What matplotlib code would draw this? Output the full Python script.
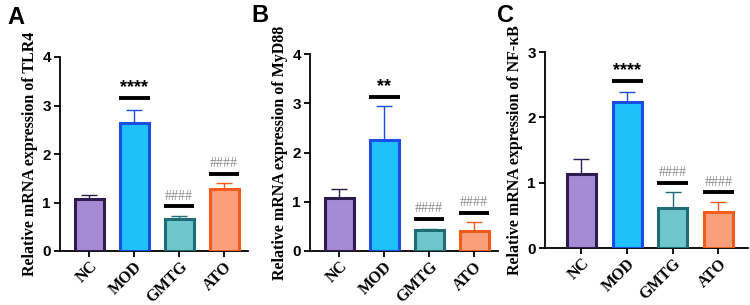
import matplotlib
matplotlib.use("Agg")
import matplotlib.pyplot as plt

groups = ["NC", "MOD", "GMTG", "ATO"]

tlr4_mean = [1.07, 2.63, 0.66, 1.28]
tlr4_err = [0.09, 0.28, 0.06, 0.12]
tlr4_sig_y = [None, 3.15, 0.92, 1.58]
tlr4_sig_txt = [None, "****", "####", "####"]

myd88_mean = [1.08, 2.26, 0.42, 0.41]
myd88_err = [0.17, 0.68, 0.03, 0.17]
myd88_sig_y = [None, 3.12, 0.65, 0.77]
myd88_sig_txt = [None, "**", "####", "####"]

nfkb_mean = [1.14, 2.24, 0.61, 0.55]
nfkb_err = [0.22, 0.15, 0.25, 0.15]
nfkb_sig_y = [None, 2.56, 0.99, 0.85]
nfkb_sig_txt = [None, "****", "####", "####"]

fills = ["#a58bd3", "#1fc1fb", "#6fc6cc", "#f9a07b"]
edges = ["#2e1c4f", "#1b4fe3", "#1e6d76", "#f25b1b"]

W, H = 750, 305
fig = plt.figure(figsize=(7.5, 3.05), dpi=100)

panels = [
    dict(letter="A", mean=tlr4_mean, err=tlr4_err, sy=tlr4_sig_y, st=tlr4_sig_txt,
         ymax=4, left=60, right=248, y0=251, ytop=57, xlim=(-0.65, 3.53),
         ylabel="Relative mRNA expression of TLR4", lx=7, ly=6),
    dict(letter="B", mean=myd88_mean, err=myd88_err, sy=myd88_sig_y, st=myd88_sig_txt,
         ymax=4, left=310, right=498, y0=251, ytop=54, xlim=(-0.65, 3.53),
         ylabel="Relative mRNA expression of MyD88", lx=251, ly=4),
    dict(letter="C", mean=nfkb_mean, err=nfkb_err, sy=nfkb_sig_y, st=nfkb_sig_txt,
         ymax=3, left=545, right=748, y0=248, ytop=52, xlim=(-0.8, 3.65),
         ylabel="Relative mRNA expression of NF-κB", lx=497, ly=4),
]

serif = ["Liberation Serif", "DejaVu Serif"]
sans = ["Liberation Sans", "DejaVu Sans"]

for p in panels:
    ax = fig.add_axes([p["left"] / W, (H - p["y0"]) / H,
                       (p["right"] - p["left"]) / W, (p["y0"] - p["ytop"]) / H])
    x = list(range(len(groups)))
    ax.bar(x, p["mean"], width=0.64, color=fills, edgecolor=edges, linewidth=2.2, zorder=3)
    for i in x:
        ax.errorbar(i, p["mean"][i], yerr=[[0], [p["err"][i]]], fmt="none",
                    ecolor=edges[i], elinewidth=1.0, capsize=5.5, capthick=1.0, zorder=2)
        if p["sy"][i] is not None:
            ax.plot([i - 0.34, i + 0.34], [p["sy"][i]] * 2, color="black", lw=2.8,
                    solid_capstyle="butt", zorder=4)
            if p["st"][i].startswith("*"):
                ax.text(i, p["sy"][i] + 0.04 * p["ymax"] / 4, p["st"][i], ha="center",
                        va="bottom", fontsize=13, fontweight="bold", family=sans,
                        color="black")
            else:
                ax.text(i, p["sy"][i] + 0.08 * p["ymax"] / 4, p["st"][i], ha="center",
                        va="bottom", fontsize=10, family=serif, color="#8c8c8c")
    ax.set_xlim(*p["xlim"])
    ax.set_ylim(0, p["ymax"])
    ax.set_yticks(range(p["ymax"] + 1))
    ax.set_xticks(x)
    ax.set_xticklabels(groups, rotation=45, ha="right", rotation_mode="anchor",
                       fontsize=11.5, fontweight="bold", family=serif)
    for lab in ax.get_yticklabels():
        lab.set_fontsize(11)
        lab.set_fontweight("bold")
        lab.set_family(sans)
    ax.spines["top"].set_visible(False)
    ax.spines["right"].set_visible(False)
    ax.spines["left"].set_linewidth(1.3)
    ax.spines["bottom"].set_linewidth(1.3)
    ax.tick_params(axis="both", width=1.3, length=4.5, pad=2)
    ax.tick_params(axis="x", pad=1)
    ax.set_ylabel(p["ylabel"], fontsize=11.5, fontweight="bold", family=serif, labelpad=3)
    fig.text(p["lx"] / W, 1 - p["ly"] / H, p["letter"], ha="left", va="top",
             fontsize=17, fontweight="bold", family=sans)

fig.savefig("out.png", dpi=100)
